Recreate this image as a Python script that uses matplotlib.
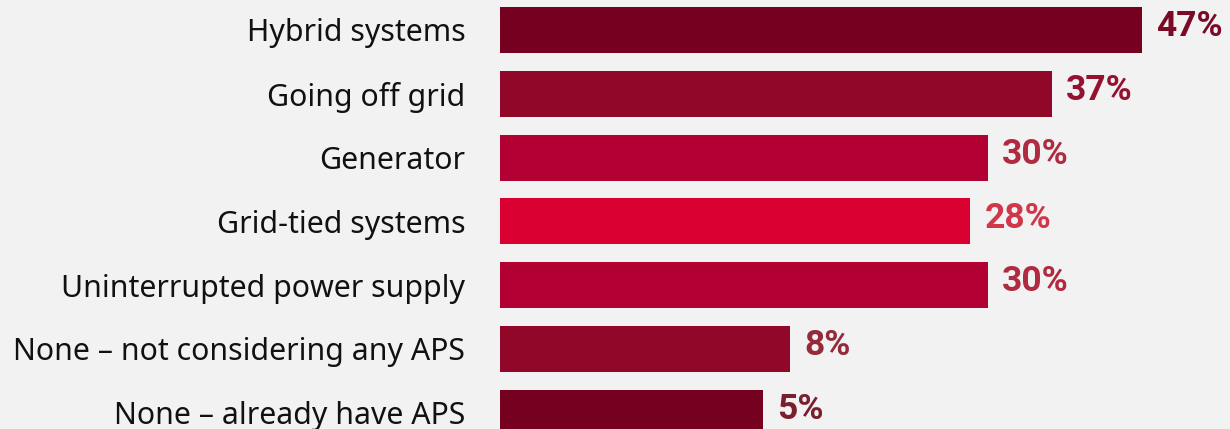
import numpy as np
import matplotlib.pyplot as plt

plt.rcParams['font.family'] = ['Noto Sans', 'DejaVu Sans']

categories = ["Hybrid systems", "Going off grid", "Generator", "Grid-tied systems",
              "Uninterrupted power supply", "None \u2013 not considering any APS",
              "None \u2013 already have APS"]
values = [47, 37, 30, 28, 30, 8, 5]
bar_colors = ["#76001f", "#91072a", "#b30032", "#db0032", "#b30032", "#91072a", "#76001f"]
label_colors = ["#7a0a26", "#96102f", "#b02a40", "#d0374a", "#b02a40", "#942a3a", "#7a1f2e"]

bg = "#f2f2f2"
base = -24.2  # bars start here so short bars stay readable

fig = plt.figure(figsize=(12.3, 4.29), dpi=100, facecolor=bg)
ax = fig.add_axes([500 / 1230, 0, 730 / 1230, 1], facecolor=bg)

y = np.arange(len(values))
ax.barh(y, np.array(values) - base, left=base, height=0.72, color=bar_colors)

for yi, v, c in zip(y, values, label_colors):
    ax.annotate(f"{v}%", (v, yi - 0.05), xytext=(10, 0),
                textcoords="offset points", va="center", ha="left",
                fontsize=25.5, fontweight="bold", color=c,
                family=["Roboto", "DejaVu Sans"])

ax.set_xlim(base, 56.8)
ax.set_ylim(6.255, -0.47)
ax.set_yticks(y)
ax.set_yticklabels(categories, fontsize=21.8, color="#111111")
ax.tick_params(axis="y", length=0, pad=25)
ax.set_xticks([])
for s in ax.spines.values():
    s.set_visible(False)

fig.savefig("out.png", dpi=100, facecolor=bg)
